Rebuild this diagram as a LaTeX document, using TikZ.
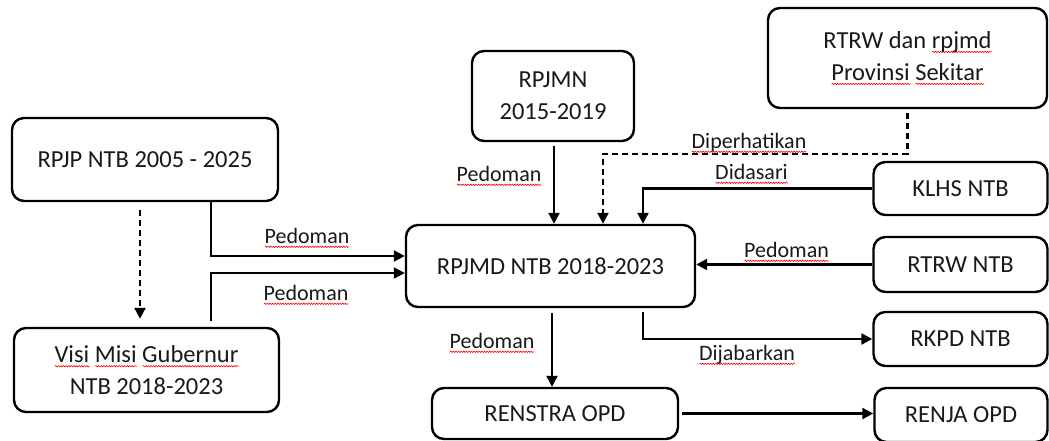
\documentclass[tikz,border=0pt]{standalone}
\usepackage{fontspec}
\setmainfont{Carlito}
\usetikzlibrary{arrows.meta,decorations.pathmorphing}
\newsavebox\sqbox
\newlength\sqlen
\newcommand\sq[1]{\sbox\sqbox{#1}\setlength\sqlen{\wd\sqbox}\rlap{\tikz[baseline=0pt]\draw[red,line width=0.6pt,solid,sharp corners,decorate,decoration={snake,amplitude=0.7pt,segment length=2.6pt}] (0pt,-3.8pt) -- (\sqlen,-3.8pt);}\usebox\sqbox}
\tikzset{
  box/.style={draw, line width=2.4pt, rounded corners=12pt, align=center, inner sep=0pt,
    text=black!90, font=\fontsize{24.5}{32}\selectfont},
  lbl/.style={anchor=base, inner sep=0pt, text=black!90, font=\fontsize{22}{26}\selectfont},
  arr/.style={line width=2.2pt, -{Triangle[length=11pt,width=11pt]}},
  dasharr/.style={arr, dash pattern=on 6pt off 4pt}
}
\begin{document}
\begin{tikzpicture}[x=1pt,y=-1pt]
\useasboundingbox (0,0) rectangle (1049,441);
% boxes
\node[box, minimum width=266pt, minimum height=83pt] (rpjp) at (145,159.5) {RPJP NTB 2005 - 2025};
\node[box, minimum width=265pt, minimum height=84pt] (visi) at (146.5,370) {\sq{Visi} \sq{Misi} \sq{Gubernur}\\NTB 2018-2023};
\node[box, minimum width=162pt, minimum height=90pt] (rpjmn) at (553,96) {RPJMN\\2015-2019};
\node[box, minimum width=289pt, minimum height=82pt] (rpjmd) at (550.5,266) {RPJMD NTB 2018-2023};
\node[box, minimum width=279pt, minimum height=100pt] (rtrwp) at (907.5,58) {RTRW dan \sq{rpjmd}\\\sq{Provinsi} \sq{Sekitar}};
\node[box, minimum width=174pt, minimum height=53pt] (klhs) at (960.5,188.5) {KLHS NTB};
\node[box, minimum width=174pt, minimum height=55pt] (rtrw) at (960.5,264.5) {RTRW NTB};
\node[box, minimum width=174pt, minimum height=54pt] (rkpd) at (960.5,339) {RKPD NTB};
\node[box, minimum width=246pt, minimum height=51pt] (renstra) at (555,413.5) {RENSTRA OPD};
\node[box, minimum width=173pt, minimum height=54pt] (renja) at (961,415) {RENJA OPD};
% helper coordinates
\coordinate (dk) at (603,154);
\coordinate (dd) at (643,187);
\coordinate (dj) at (643,312);
% connectors
\draw[dasharr] ([xshift=-5pt,yshift=-8pt]rpjp.south) -- ([xshift=-6.5pt,yshift=8pt]visi.north);
\draw[arr] ([xshift=66pt]rpjp.south) |- ([yshift=10pt]rpjmd.west);
\draw[arr] ([xshift=64.5pt,yshift=6pt]visi.north) |- ([yshift=-7pt]rpjmd.west);
\draw[arr] ([xshift=1pt,yshift=-4pt]rpjmn.south) -- ([xshift=1pt]rpjmn.south |- rpjmd.north);
\draw[dasharr] ([yshift=-4pt]rtrwp.south) |- (dk) -- (dk |- rpjmd.north);
\draw[arr] (klhs.west) -| (dd |- rpjmd.north);
\draw[arr] (rtrw.west) -- (rpjmd.east |- rtrw.west);
\draw[arr] (dj) |- (rkpd.west);
\draw[arr] ([xshift=1.5pt,yshift=-5pt]rpjmd.south) -- ([xshift=1.5pt]rpjmd.south |- renstra.north);
\draw[arr] ([xshift=3pt]renstra.east) -- (renstra.east -| renja.west);
% labels
\node[lbl] (l1) at (307,243) {\sq{Pedoman}};
\node[lbl] (l2) at (306,300) {\sq{Pedoman}};
\node[lbl] (l3) at (499,181) {\sq{Pedoman}};
\node[lbl] (l4) at (749,148) {\sq{Diperhatikan}};
\node[lbl] (l5) at (751.5,179) {\sq{Didasari}};
\node[lbl] (l6) at (786.5,257) {\sq{Pedoman}};
\node[lbl] (l7) at (747,360) {\sq{Dijabarkan}};
\node[lbl] (l8) at (492,348) {\sq{Pedoman}};
\end{tikzpicture}
\end{document}
